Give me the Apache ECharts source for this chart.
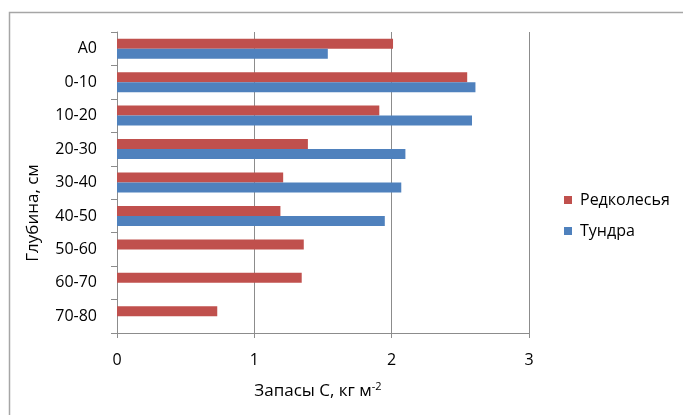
<!DOCTYPE html>
<html>
<head>
<meta charset="utf-8">
<script src="https://cdn.jsdelivr.net/npm/echarts@6/dist/echarts.min.js"></script>
<style>
html,body{margin:0;padding:0;background:#fff;}
#chart{width:683px;height:415px;}
</style>
</head>
<body>
<div id="chart"></div>
<script>
const categories = ['A0', '0-10', '10-20', '20-30', '30-40', '40-50', '50-60', '60-70', '70-80'];
const redkolesya = [2.01, 2.55, 1.91, 1.39, 1.21, 1.19, 1.36, 1.345, 0.73];
const tundra = [1.535, 2.61, 2.585, 2.10, 2.07, 1.95, null, null, null];
const seriesNames = ['Редколесья', 'Тундра'];
const xTicks = [0, 1, 2, 3];

const FONT = '"Open Sans", "Noto Sans", sans-serif';
const GRAY = '#8c8c8c';

const chart = echarts.init(document.getElementById('chart'), null, {renderer: 'canvas'});
chart.setOption({
  animation: false,
  backgroundColor: '#fff',
  textStyle: {fontFamily: FONT},
  grid: {left: 117, right: 154, top: 32, bottom: 82, containLabel: false},
  legend: {
    orient: 'vertical',
    left: 564,
    top: 192,
    padding: 0,
    itemWidth: 8,
    itemHeight: 8,
    itemGap: 15,
    icon: 'rect',
    data: seriesNames,
    textStyle: {fontFamily: FONT, fontSize: 16, color: '#000', padding: [0, 0, 0, 3]}
  },
  xAxis: {
    type: 'value',
    min: xTicks[0],
    max: xTicks[xTicks.length - 1],
    interval: 1,
    axisLine: {show: true, lineStyle: {color: GRAY, width: 1}},
    axisTick: {show: true, length: 5, lineStyle: {color: GRAY}},
    splitLine: {show: true, lineStyle: {color: GRAY, width: 1}},
    axisLabel: {fontFamily: FONT, fontSize: 16, color: '#000', margin: 19},
    name: '{a|Запасы С, кг м}{s|-2}',
    nameLocation: 'middle',
    nameGap: 48,
    nameTextStyle: {
      padding: [0, 10, 0, 0],
      rich: {
        a: {fontFamily: FONT, fontSize: 17, color: '#000'},
        s: {fontFamily: FONT, fontSize: 11, color: '#000', padding: [0, 0, 9, 0]}
      }
    }
  },
  yAxis: {
    type: 'category',
    inverse: true,
    data: categories,
    axisLine: {show: true, lineStyle: {color: GRAY, width: 1}},
    axisTick: {show: true, length: 6, alignWithLabel: false, lineStyle: {color: GRAY}},
    axisLabel: {fontFamily: FONT, fontSize: 16, color: '#000', margin: 20},
    splitLine: {show: false}
  },
  graphic: [
    {
      type: 'rect',
      shape: {x: 9.5, y: 12.5, width: 720, height: 430},
      style: {fill: 'none', stroke: '#a6a6a6', lineWidth: 1.5},
      silent: true
    },
    {
      type: 'text',
      x: 33,
      y: 213,
      rotation: Math.PI / 2,
      style: {
        text: 'Глубина, см',
        font: '17px ' + FONT,
        fill: '#000',
        align: 'center',
        verticalAlign: 'middle'
      }
    }
  ],
  series: [
    {
      name: seriesNames[0],
      type: 'bar',
      data: redkolesya,
      barWidth: 10,
      barGap: '0%',
      itemStyle: {color: '#C0504D'}
    },
    {
      name: seriesNames[1],
      type: 'bar',
      data: tundra,
      barWidth: 10,
      barGap: '0%',
      itemStyle: {color: '#4F81BD'}
    }
  ]
});
</script>
</body>
</html>
